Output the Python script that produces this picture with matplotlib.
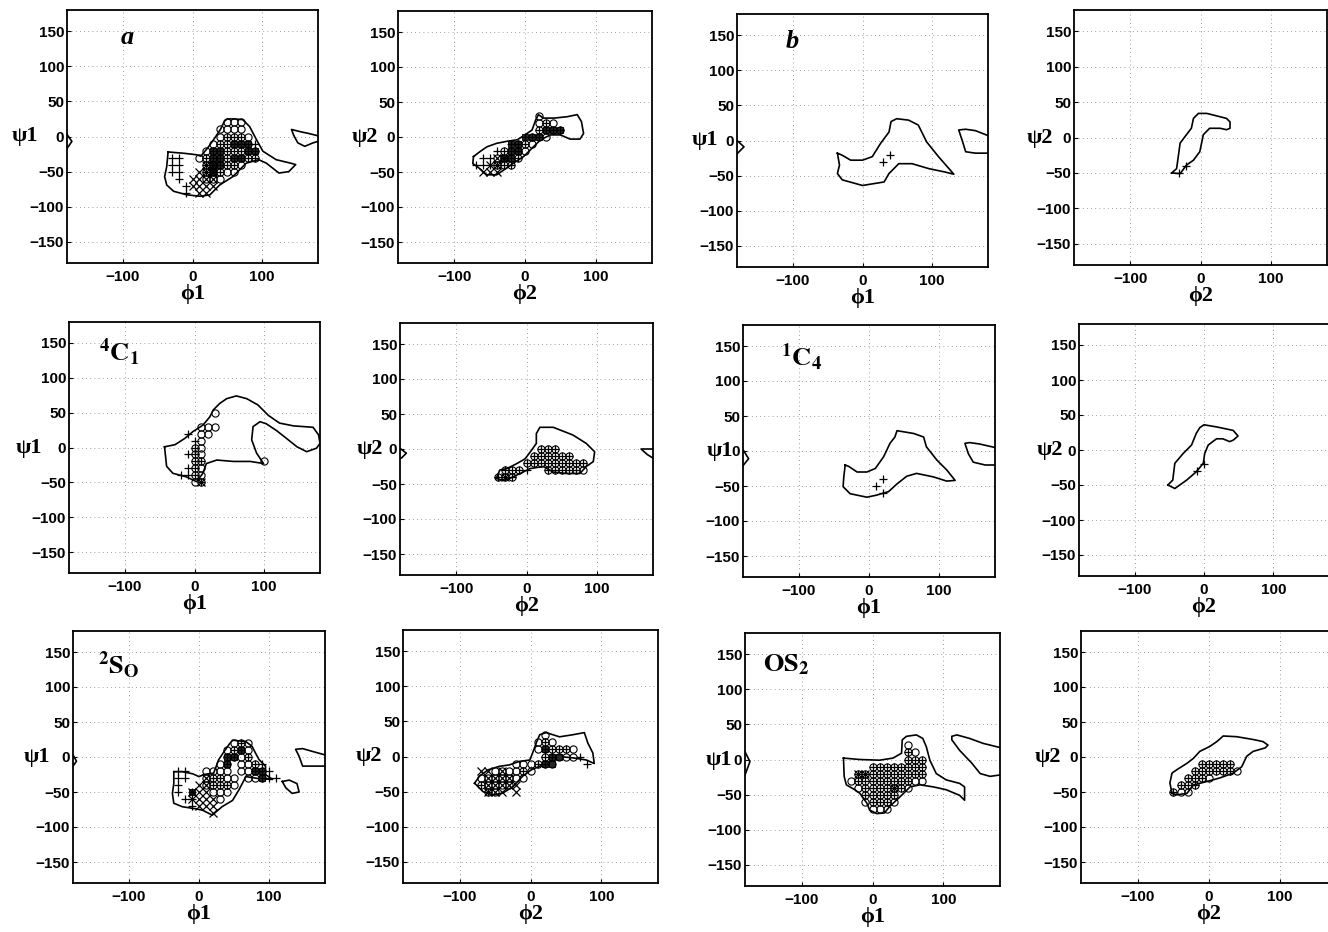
import numpy as np
import matplotlib.pyplot as plt

plt.rcParams["font.family"] = ["Liberation Sans", "DejaVu Sans"]
plt.rcParams["mathtext.fontset"] = "stix"
SERIF = ["Liberation Serif", "DejaVu Serif"]

W, H = 1328, 932

# ---- contour outlines, (phi, psi) in degrees ----
a1_main = [(-35, -22), (-11, -24), (6, -26), (12, -28), (22, -16), (32, -2), (40, 10), (46, 22),
           (50, 25), (60, 25), (72, 24), (82, 14), (92, -5), (101, -21), (120, -33), (141, -38),
           (148, -40), (138, -50), (124, -52), (106, -38), (95, -33), (77, -38), (58, -57),
           (39, -69), (25, -83), (11, -85), (-8, -83), (-27, -78), (-37, -69), (-40, -57),
           (-37, -43), (-35, -22)]
a1_right = [(180, 1), (168, 4), (154, 7), (142, 10), (145, 2), (151, -9), (161, -14), (173, -9), (180, -7)]
a1_left = [(-180, 3), (-173, -7), (-180, -17)]

a2_main = [(-73, -28), (-74, -38), (-68, -42), (-54, -54), (-40, -54), (-30, -47), (-16, -37),
           (-2, -28), (12, -14), (22, -4), (36, 3), (50, 3), (64, -3), (78, -3), (83, 5), (80, 22),
           (74, 32), (60, 29), (41, 27), (26, 27), (19, 32), (15, 24), (10, 10), (0, 3), (-11, -4),
           (-25, -6), (-40, -9), (-54, -14), (-64, -21), (-73, -28)]

b1_main = [(-36, -18), (-33, -35), (-36, -47), (-29, -56), (0, -64), (31, -59), (38, -47), (52, -33),
           (71, -33), (95, -40), (119, -45), (131, -48), (124, -40), (109, -23), (92, -2), (80, 22),
           (66, 29), (49, 31), (41, 27), (38, 12), (26, -4), (14, -23), (0, -28), (-17, -28),
           (-29, -21), (-36, -18)]
b1_right = [(180, 7), (162, 14), (148, 16), (138, 15), (143, 0), (148, -16), (162, -18), (180, -18)]
b1_left = [(-180, 0), (-170, -9), (-180, -19)]

b2_main = [(-41, -50), (-34, -44), (-29, -8), (-20, 4), (-13, 13), (-10, 27), (-3, 34), (9, 34),
           (37, 27), (42, 22), (42, 13), (37, 11), (28, 13), (13, 13), (4, 4), (-1, -20), (-10, -32),
           (-20, -39), (-29, -51), (-41, -50)]

c1_main = [(-43, 1), (-28, 4), (-14, 13), (-2, 23), (12, 32), (22, 44), (27, 54), (36, 63), (46, 70),
           (60, 74), (75, 70), (91, 61), (106, 46), (122, 35), (142, 31), (170, 29), (178, 18),
           (180, 6), (175, -1), (161, -6), (147, 1), (132, 13), (118, 24), (103, 34), (94, 37),
           (84, 30), (82, 11), (89, -8), (99, -23), (80, -20), (56, -20), (32, -18), (17, -23),
           (12, -37), (3, -49), (-12, -42), (-31, -37), (-40, -27), (-43, 1)]

c2_main = [(-43, -42), (-38, -30), (-28, -28), (-14, -21), (-2, -14), (7, -2), (14, 8), (14, 22),
           (19, 31), (38, 31), (66, 20), (85, 8), (97, -4), (95, -18), (85, -25), (76, -35), (57, -35),
           (38, -33), (24, -25), (5, -28), (-9, -35), (-24, -42), (-33, -45), (-43, -42)]
c2_left = [(-180, 1), (-171, -6), (-178, -13), (-180, -13)]
c2_right = [(180, 0), (163, 0), (172, -8), (180, -13)]

d1_main = [(-34, -20), (-36, -37), (-37, -51), (-27, -61), (-3, -66), (11, -63), (28, -58), (40, -47),
           (54, -36), (68, -32), (92, -37), (111, -43), (123, -42), (111, -27), (97, -13), (82, 6),
           (78, 20), (64, 25), (40, 29), (37, 20), (30, 11), (21, -8), (9, -25), (-3, -30), (-17, -30),
           (-29, -22), (-34, -20)]
d1_right = [(180, 5), (158, 10), (144, 12), (137, 11), (142, -4), (149, -16), (166, -20), (180, -20)]
d1_left = [(-180, 2), (-172, -11), (-180, -21)]

d2_main = [(-52, -50), (-45, -43), (-42, -19), (-30, -5), (-18, 7), (-11, 24), (-6, 32), (0, 36),
           (18, 33), (42, 28), (49, 20), (42, 14), (37, 12), (27, 16), (18, 16), (6, 7), (1, -5),
           (-1, -19), (-11, -31), (-25, -43), (-42, -55), (-52, -50)]

e1_main = [(-36, -21), (-36, -38), (-38, -52), (-36, -66), (-24, -71), (-5, -74), (5, -76), (19, -83),
           (33, -71), (48, -62), (57, -47), (67, -28), (86, -31), (105, -32), (95, -25), (95, -13),
           (86, -4), (81, 5), (76, 15), (67, 22), (48, 24), (43, 18), (36, 8), (28, -4), (21, -23),
           (7, -25), (0, -28), (-9, -24), (-24, -21), (-36, -21)]
e1_small = [(119, -35), (129, -33), (140, -38), (143, -50), (133, -52), (124, -44), (119, -35)]
e1_right = [(180, 3), (162, 8), (148, 12), (138, 11), (143, 1), (148, -13), (164, -13), (180, -13)]
e1_left = [(-180, 3), (-175, -6), (-180, -13)]

e2_main = [(-79, -38), (-72, -28), (-60, -19), (-44, -14), (-30, -12), (-16, -7), (-1, -5), (3, 5),
           (8, 19), (13, 31), (22, 34), (41, 28), (60, 31), (76, 34), (81, 19), (88, 5), (90, -10),
           (79, -5), (60, -2), (41, 0), (27, -7), (13, -14), (1, -19), (-11, -28), (-25, -43),
           (-39, -52), (-53, -55), (-67, -50), (-79, -38)]

f1_main = [(-41, 2), (-40, -24), (-37, -36), (-25, -43), (-18, -48), (-8, -62), (-4, -72), (6, -77),
           (17, -76), (24, -67), (39, -53), (53, -39), (67, -36), (86, -39), (104, -43), (123, -51),
           (130, -58), (130, -39), (123, -34), (104, -29), (90, -20), (81, -1), (76, 18), (71, 30),
           (62, 35), (48, 33), (42, 28), (41, 9), (29, 2), (10, -1), (-18, 0), (-41, 2)]
f1_right = [(180, 17), (156, 23), (137, 30), (119, 35), (112, 33), (112, 28), (123, 13), (140, -5),
            (152, -20), (166, -24), (180, -22)]
f1_left = [(-180, 11), (-173, -3), (-180, -22)]

f2_main = [(-52, -52), (-55, -37), (-52, -23), (-45, -18), (-31, -9), (-22, -2), (-13, 8), (1, 15),
           (11, 22), (20, 30), (39, 29), (62, 25), (76, 22), (83, 17), (79, 13), (62, 8), (53, 1),
           (46, -14), (34, -23), (15, -30), (-3, -35), (-22, -40), (-31, -52), (-45, -54), (-52, -52)]

# ---- conformer markers: psi -> phi values on the 10 degree grid ----
a1_circ = {20: [50, 60, 70], 10: [40, 50, 60, 70], 0: [40, 50, 60, 70, 80],
           -10: [30, 40, 50, 60, 70, 80], -20: [20, 30, 40, 50, 60, 70, 80, 90],
           -30: [10, 20, 30, 40, 50, 60, 70, 80, 90], -40: [20, 30, 40, 50, 60, 70],
           -50: [20, 30, 40, 50, 60], -60: [20, 30, 40]}
a1_plus = {0: [50, 60, 70], -10: [40, 50, 60, 70, 80, 90], -20: [30, 40, 50, 60, 70, 80, 90],
           -30: [-30, -20, 20, 30, 40, 50, 60, 70, 80, 90], -40: [-30, -20, 20, 30, 40, 50, 60],
           -50: [-30, -20, 20, 30, 40], -60: [-20], -70: [-10], -80: [-10]}
a1_cross = {-40: [20, 30], -50: [10, 20, 30], -60: [0, 10, 20, 30], -70: [0, 10, 20, 30], -80: [10, 20]}
a1_sq = {-10: [60, 70, 80], -20: [30, 40, 80, 90], -30: [30, 40, 60, 70], -40: [30, 40], -50: [30]}

a2_circ = {30: [20], 20: [20, 30, 40], 10: [20, 30, 40, 50], 0: [10, 20, 30], -10: [-10, 0, 10],
           -20: [-30, -20, -10, 0], -30: [-40, -30, -20, -10], -40: [-40, -30, -20]}
a2_plus = {20: [30], 10: [20, 30, 40, 50], 0: [0, 10, 20], -10: [-20, -10, 0],
           -20: [-40, -30, -20, -10], -30: [-60, -50, -30, -20, -10],
           -40: [-70, -60, -50, -40, -30, -20]}
a2_cross = {-30: [-40, -30], -40: [-50, -40], -50: [-60, -50, -40]}
a2_sq = {10: [30, 40, 50], 0: [0, 10, 20], -10: [-20, -10], -20: [-20, -10], -30: [-30, -20]}

b1_plus = {-20: [40], -30: [30]}
b2_plus = {-40: [-20], -50: [-30]}

c1_circ = {50: [30], 30: [10, 20, 30], 20: [10, 20], 10: [10], 0: [0, 10], -10: [0, 10],
           -20: [0, 10, 100], -30: [0, 10], -40: [0, 10], -50: [0, 10]}
c1_plus = {20: [-10], 10: [0], 0: [0], -10: [-10, 0], -20: [0, 10], -30: [-10, 0],
           -40: [-20, -10, 0], -50: [10]}
c1_cross = {-50: [10]}

c2_circ = {0: [20, 30, 40], -10: [10, 20, 30, 40, 50, 60], -20: [0, 10, 20, 30, 40, 50, 60, 70, 80],
           -30: [-30, -20, -10, 30, 40, 50, 60, 70, 80], -40: [-40, -30, -20]}
c2_plus = {0: [20, 30, 40], -10: [10, 20, 30, 40, 50, 60], -20: [0, 10, 20, 30, 40, 50, 60, 70, 80],
           -30: [-30, -20, -10, 0, 30, 40, 50, 60, 70], -40: [-40, -30, -20]}
c2_cross = {-40: [-30]}

d1_plus = {-40: [20], -50: [10], -60: [20]}
d2_plus = {-20: [0], -30: [-10]}

e1_circ = {20: [50, 60, 70], 10: [40, 50, 60, 70], 0: [40, 50, 60, 70], -10: [30, 40, 60, 70, 80],
           -20: [10, 20, 30, 40, 60, 70, 80, 90], -30: [10, 20, 30, 40, 50, 70, 80, 90],
           -40: [10, 20, 30, 40, 50], -50: [20, 30, 40], -60: [30]}
e1_plus = {20: [60], 10: [50, 60], 0: [40, 50, 70], -10: [40, 80, 90], -20: [-30, -20, 80, 90, 100],
           -30: [-30, -20, 20, 30, 90, 100, 110], -40: [-30, 20, 30, 40], -50: [-30, -10],
           -60: [-20, -10], -70: [-10]}
e1_cross = {-30: [10], -40: [0, 10], -50: [-10, 0, 10], -60: [-10, 0, 10, 20], -70: [0, 10, 20], -80: [20]}
e1_sq = {0: [40, 50], 10: [60], -10: [40], -20: [80, 90], -30: [90], -50: [-10]}

e2_circ = {30: [20], 20: [10, 20, 30], 10: [10, 20, 30, 40, 50, 60], 0: [20, 30, 40, 50, 60],
           -10: [-20, -10, 0, 10, 20, 30], -20: [-50, -40, -30, -20, -10, 0],
           -30: [-70, -60, -50, -40, -30, -20, -10], -40: [-70, -60, -50, -40, -30], -50: [-60, -50]}
e2_plus = {20: [20], 10: [20, 30, 40, 50], 0: [20, 30, 70], -10: [10, 20, 80], -20: [-10],
           -40: [-70], -50: [-60]}
e2_cross = {-20: [-70, -60, -40], -30: [-60, -50, -40, -30], -40: [-60, -50, -40, -30, -20],
            -50: [-60, -50, -40, -20]}
e2_sq = {0: [30, 40], -10: [20, 30], 10: [20]}

f1_circ = {20: [50], 10: [50, 60], 0: [50, 60, 70], -10: [0, 10, 20, 30, 40, 50, 60, 70],
           -20: [-20, -10, 0, 10, 20, 30, 40, 50, 60, 70],
           -30: [-30, -20, -10, 0, 10, 20, 30, 40, 50, 60, 70],
           -40: [-20, -10, 0, 10, 20, 30, 40, 50], -50: [-10, 0, 10, 20, 30],
           -60: [-10, 0, 10, 20, 30], -70: [0, 10, 20]}
f1_plus = {10: [50], 0: [50, 60, 70], -10: [0, 10, 20, 30, 40, 50, 60, 70],
           -20: [-20, -10, 0, 10, 20, 30, 40, 50, 60, 70], -30: [-20, -10, 0, 10, 20, 30, 40, 50],
           -40: [-10, 0, 10, 20, 30, 40], -50: [-10, 0, 10, 20, 30], -60: [0, 10, 20]}
f1_cross = {-20: [-20, -10], -40: [30]}

f2_circ = {-10: [-10, 0, 10, 20, 30], -20: [-20, -10, 0, 10, 20, 30, 40], -30: [-30, -20, -10, 0],
           -40: [-40, -30, -20], -50: [-50, -40, -30]}
f2_plus = {-10: [-10, 0, 10, 20, 30], -20: [-20, -10, 0, 10, 20, 30], -30: [-30, -20, -10],
           -40: [-40, -30, -20], -50: [-50]}

TAG_A = "a"
TAG_B = "b"
TAG_4C1 = r"$^{\mathbf{4}}\mathbf{C}_{\mathbf{1}}$"
TAG_1C4 = r"$^{\mathbf{1}}\mathbf{C}_{\mathbf{4}}$"
TAG_2SO = r"$^{\mathbf{2}}\mathbf{S}_{\mathbf{O}}$"
TAG_OS2 = r"$\mathbf{OS}_{\mathbf{2}}$"

# pixel boxes (left, top, right, bottom) of each panel, and ylabel offset
panels = [
    dict(box=(67, 10, 318, 263), n=1, ylx=-0.115, lines=[a1_main, a1_right, a1_left],
         circ=a1_circ, plus=a1_plus, cross=a1_cross, sq=a1_sq, tag=TAG_A, tpos=(0.215, 0.893)),
    dict(box=(398, 11, 652, 263), n=2, ylx=-0.079, lines=[a2_main],
         circ=a2_circ, plus=a2_plus, cross=a2_cross, sq=a2_sq),
    dict(box=(737, 14, 988, 267), n=1, ylx=-0.075, lines=[b1_main, b1_right, b1_left],
         plus=b1_plus, tag=TAG_B, tpos=(0.192, 0.893)),
    dict(box=(1074, 10, 1327, 265), n=2, ylx=-0.083, lines=[b2_main], plus=b2_plus),
    dict(box=(69, 322, 320, 573), n=1, ylx=-0.107, lines=[c1_main],
         circ=c1_circ, plus=c1_plus, cross=c1_cross, tag=TAG_4C1, tpos=(0.118, 0.88)),
    dict(box=(400, 323, 653, 575), n=2, ylx=-0.067, lines=[c2_main, c2_left, c2_right],
         circ=c2_circ, plus=c2_plus, cross=c2_cross),
    dict(box=(743, 325, 995, 577), n=1, ylx=-0.04, lines=[d1_main, d1_right, d1_left],
         plus=d1_plus, tag=TAG_1C4, tpos=(0.15, 0.873)),
    dict(box=(1079, 324, 1329, 576), n=2, ylx=-0.063, lines=[d2_main], plus=d2_plus),
    dict(box=(73, 631, 325, 883), n=1, ylx=-0.09, lines=[e1_main, e1_small, e1_right, e1_left],
         circ=e1_circ, plus=e1_plus, cross=e1_cross, sq=e1_sq, tag=TAG_2SO, tpos=(0.1, 0.865)),
    dict(box=(403, 630, 658, 883), n=2, ylx=-0.083, lines=[e2_main],
         circ=e2_circ, plus=e2_plus, cross=e2_cross, sq=e2_sq),
    dict(box=(745, 633, 1000, 886), n=1, ylx=-0.05, lines=[f1_main, f1_right, f1_left],
         circ=f1_circ, plus=f1_plus, cross=f1_cross, tag=TAG_OS2, tpos=(0.072, 0.873)),
    dict(box=(1081, 631, 1337, 883), n=2, ylx=-0.079, lines=[f2_main],
         circ=f2_circ, plus=f2_plus),
]


def grid_points(rows):
    pts = [(phi, psi) for psi, phis in rows.items() for phi in phis]
    return np.array(pts, dtype=float).reshape(-1, 2)


fig = plt.figure(figsize=(W / 100, H / 100), dpi=100)

for p in panels:
    l, t, r, b = p["box"]
    ax = fig.add_axes([l / W, 1 - b / H, (r - l) / W, (b - t) / H])
    ax.set_xlim(-180, 180)
    ax.set_ylim(-180, 180)
    ax.set_xticks([-100, 0, 100])
    ax.set_yticks([-150, -100, -50, 0, 50, 100, 150])
    ax.grid(True, linestyle=(0, (1, 4)), color="0.5", linewidth=0.6)
    ax.tick_params(direction="in", length=3, width=0.8, labelsize=11)
    ax.tick_params(axis="x", pad=5)
    ax.tick_params(axis="y", pad=2)
    for lab in ax.get_xticklabels() + ax.get_yticklabels():
        lab.set_fontweight("bold")
    for sp in ax.spines.values():
        sp.set_linewidth(1.3)

    for line in p["lines"]:
        xy = np.array(line, dtype=float)
        ax.plot(xy[:, 0], xy[:, 1], color="black", lw=1.2)

    if "sq" in p:
        xy = grid_points(p["sq"])
        ax.plot(xy[:, 0], xy[:, 1], "s", ms=5, mfc="0.15", mec="black", mew=0.6)
    if "circ" in p:
        xy = grid_points(p["circ"])
        ax.plot(xy[:, 0], xy[:, 1], "o", ms=5.2, mfc="none", mec="black", mew=0.8)
    if "plus" in p:
        xy = grid_points(p["plus"])
        ax.plot(xy[:, 0], xy[:, 1], "+", ms=6, mec="black", mew=0.9)
    if "cross" in p:
        xy = grid_points(p["cross"])
        ax.plot(xy[:, 0], xy[:, 1], "x", ms=5.5, mec="black", mew=0.9)

    n = p["n"]
    ax.set_xlabel("\u03d5%d" % n, fontfamily=SERIF, fontweight="bold", fontsize=16, labelpad=0)
    ax.set_ylabel("\u03c8%d" % n, fontfamily=SERIF, fontweight="bold", fontsize=16,
                  rotation=0, ha="right", va="center")
    ax.yaxis.set_label_coords(p["ylx"], 0.5)

    if "tag" in p:
        if p["tag"] in (TAG_A, TAG_B):
            ax.text(*p["tpos"], p["tag"], transform=ax.transAxes, fontfamily=SERIF,
                    fontweight="bold", fontstyle="italic", fontsize=19, ha="left", va="center")
        else:
            ax.text(*p["tpos"], p["tag"], transform=ax.transAxes, fontsize=19,
                    ha="left", va="center")

fig.savefig("out.png", dpi=100)
